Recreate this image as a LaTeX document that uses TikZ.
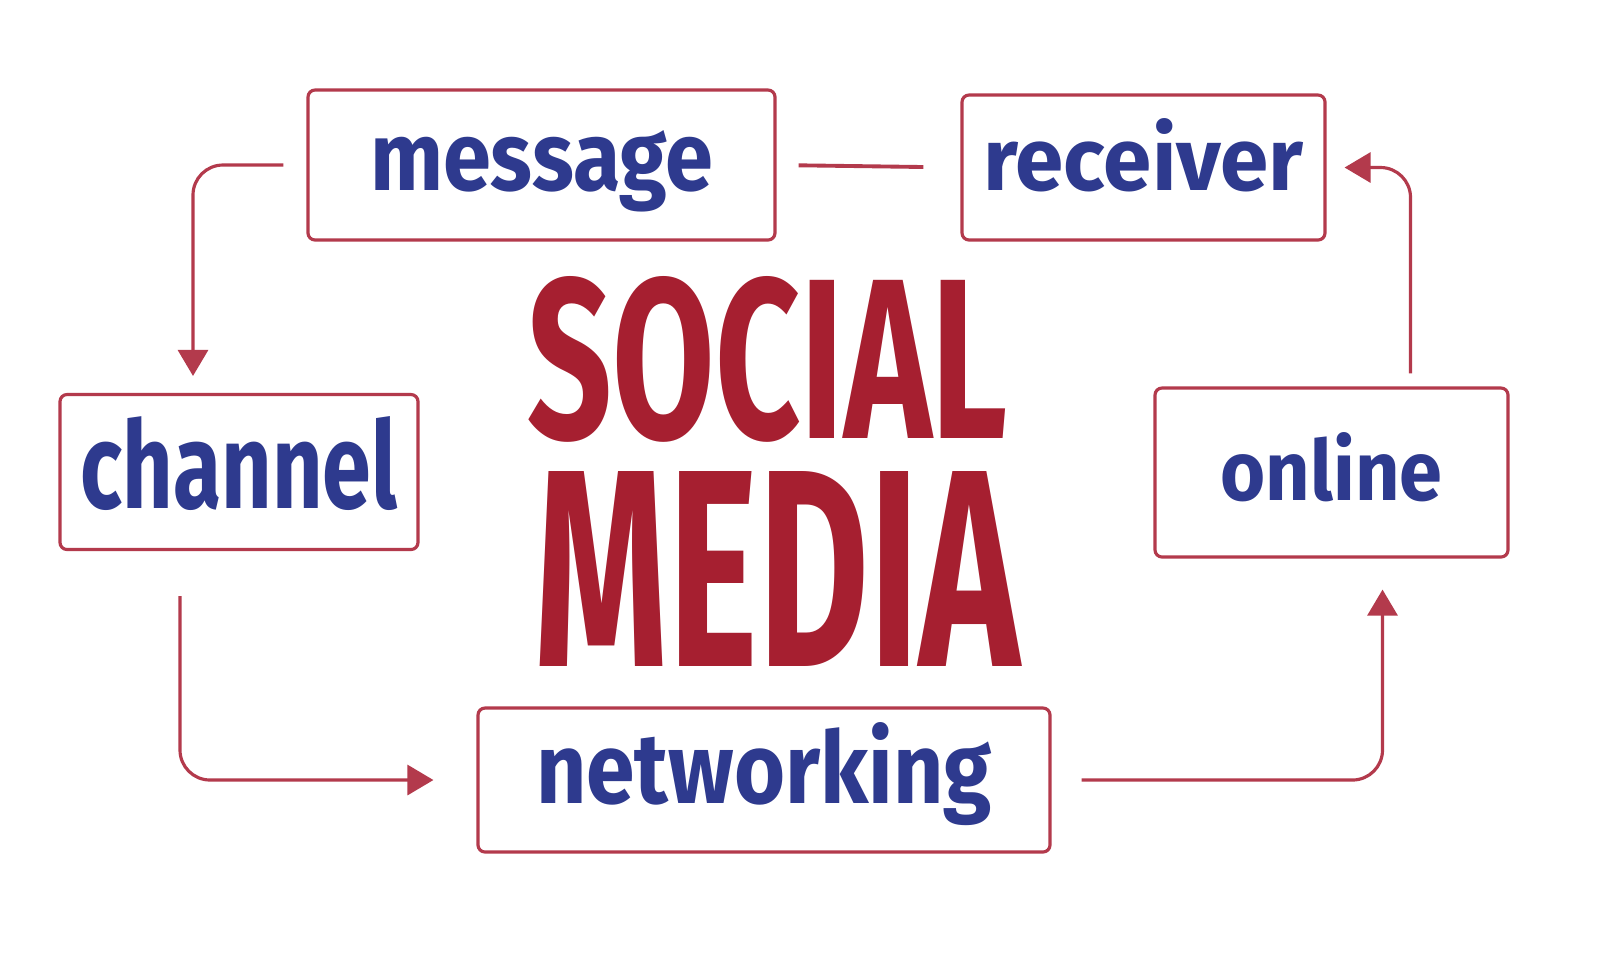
\documentclass[tikz,border=0pt]{standalone}
\usepackage{fontspec}
\usepackage{graphicx}
\setmainfont{Fira Sans}
\usetikzlibrary{arrows.meta}

\definecolor{inkred}{HTML}{A61F30}
\definecolor{boxred}{HTML}{B33A4C}
\definecolor{inkblue}{HTML}{2E3A8E}

\newcommand{\hword}[3]{\resizebox{#1}{#2}{#3}}

\begin{document}
\begin{tikzpicture}[
    wordbox/.style={draw=boxred, line width=0.9pt, rounded corners=2pt, text=inkblue, font=\bfseries, inner sep=0pt, text depth=0pt},
    flow/.style={draw=boxred, line width=0.9pt, rounded corners=3mm, -{Triangle[length=2.6mm,width=3mm]}},
    title/.style={text=inkred, font=\bfseries, inner sep=0pt, anchor=base}
]
    \useasboundingbox[fill=white] (0,0) rectangle (16,-9.6);

    % boxes
    \node[wordbox, minimum width=4.67cm, minimum height=1.50cm, text height=0.50cm] (message) at (5.415,-1.65) {\hword{3.43cm}{0.60cm}{message}};
    \node[wordbox, minimum width=3.63cm, minimum height=1.45cm, text height=0.46cm] (receiver) at (11.435,-1.675) {\hword{3.20cm}{0.72cm}{receiver}};
    \node[wordbox, minimum width=3.58cm, minimum height=1.55cm, text height=0.72cm] (channel) at (2.39,-4.72) {\hword{3.17cm}{0.92cm}{channel}};
    \node[wordbox, minimum width=3.53cm, minimum height=1.69cm, text height=0.56cm] (online) at (13.315,-4.725) {\hword{2.22cm}{0.68cm}{online}};
    \node[wordbox, minimum width=5.72cm, minimum height=1.44cm, text height=0.46cm] (networking) at (7.64,-7.80) {\hword{4.56cm}{0.81cm}{networking}};

    % title
    \node[title] (social) at (7.68,-4.38) {\hword{4.80cm}{1.62cm}{SOCIAL}};
    \node[title] (media) at (7.77,-6.66) {\hword{4.85cm}{1.95cm}{MEDIA}};

    % connectors
    \draw[draw=boxred, line width=1.1pt, shorten <=0.22cm, shorten >=0.37cm] (message.east) -- (receiver.west);
    \draw[flow, shorten <=0.23cm, shorten >=0.17cm] (message.west) -| ([xshift=-0.46cm]channel.north);
    \draw[flow, shorten <=0.45cm, shorten >=0.43cm] ([xshift=-0.59cm]channel.south) |- (networking.west);
    \draw[flow, shorten <=0.30cm, shorten >=0.31cm] (networking.east) -| ([xshift=0.51cm]online.south);
    \draw[flow, shorten <=0.13cm, shorten >=0.18cm] ([xshift=0.79cm]online.north) |- (receiver.east);
\end{tikzpicture}
\end{document}
